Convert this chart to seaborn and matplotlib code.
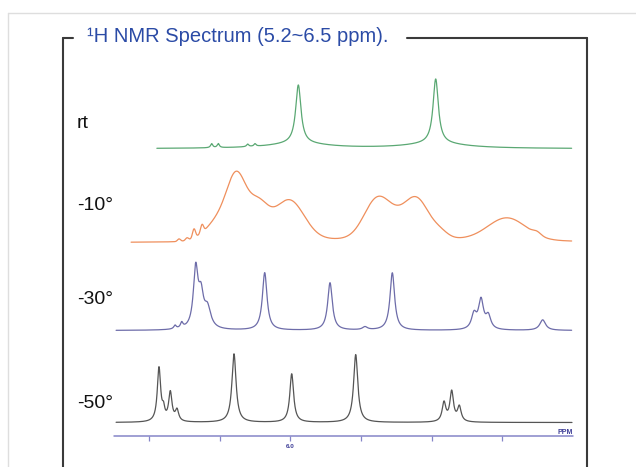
import numpy as np
import pandas as pd
import matplotlib
matplotlib.use("Agg")
import matplotlib.pyplot as plt
import seaborn as sns
from matplotlib.lines import Line2D

# ---------------- data ----------------
labels = ["rt", "-10°", "-30°", "-50°"]
colors = ["#5aa873", "#ef8f5c", "#6d6ca9", "#555555"]

# rt spectrum: peak centres (ppm), heights, half-widths (ppm)
rt_pos = [6.2227, 6.2040, 6.1207, 6.1000, 5.9773, 5.5881, 5.9773, 5.5881]
rt_height = [4.0, 4.0, 2.5, 2.5, 58.4, 64.4, 5.0, 5.0]
rt_width = [0.0037, 0.0037, 0.0037, 0.0037, 0.0091, 0.0091, 0.10, 0.10]
rt_range = [6.378, 5.203]

# -10 degree spectrum (broad, Gaussian bands)
m10_pos = [5.6892, 6.1821, 6.1510, 6.0915, 6.0037, 5.7544, 5.6977, 5.6411,
           5.5759, 5.3861, 5.3011, 6.3153, 6.2926, 6.2728, 6.2501]
m10_height = [4, 28, 44, 32, 40, 38.7, 12, 38, 6, 22, 3, 2.5, 2.5, 9, 8]
m10_width = [0.340, 0.0453, 0.0255, 0.0283, 0.0425, 0.0368, 0.0340, 0.0340,
             0.0227, 0.0538, 0.0113, 0.0042, 0.0042, 0.0042, 0.0042]
m10_range = [6.451, 5.203]

# -30 degree spectrum
m30_pos = [6.3266, 6.3076, 6.2680, 6.2530, 6.2346, 6.0725, 5.8875, 5.7884,
           5.7110, 5.4796, 5.4598, 5.4391, 5.2850]
m30_height = [3.5, 5.4, 58.6, 30.1, 19.7, 57.5, 47.5, 3.0, 57.5, 14.8, 29.0, 13.0, 10.5]
m30_width = [0.0042, 0.0042, 0.0079, 0.0085, 0.0113, 0.0079, 0.0079, 0.0085,
             0.0079, 0.0085, 0.0085, 0.0085, 0.0099]
m30_range = [6.4935, 5.203]

# -50 degree spectrum
m50_pos = [6.3720, 6.3592, 6.3399, 6.3210, 6.1595, 5.9960, 5.8147, 5.5646, 5.5428, 5.5212]
m50_height = [53.8, 9.8, 28.8, 11.1, 68.5, 48.5, 67.8, 19.0, 29.9, 14.8]
m50_width = [0.0057, 0.0042, 0.0057, 0.0057, 0.0071, 0.0065, 0.0071, 0.0062, 0.0062, 0.0062]
m50_range = [6.4935, 5.202]

shapes = ["lorentz", "gauss", "lorentz", "lorentz"]

# ppm axis
axis_range = [6.5, 5.2]
tick_values = [6.4, 6.2, 6.0, 5.8, 5.6, 5.4]
tick_labels = ["", "", "6.0", "", "", ""]
title = "¹H NMR Spectrum (5.2~6.5 ppm)."

# ---------------- layout ----------------
W, H = 636, 467
baselines = [318.3, 224.5, 136.5, 44.5]     # vertical offsets of the traces
label_y = [344, 261, 168, 63]               # label positions (same units)
axis_y = 31

def spectrum(x, pos, height, width, shape):
    y = np.zeros_like(x)
    for p, h, w in zip(pos, height, width):
        if shape == "lorentz":
            y += h * w ** 2 / ((x - p) ** 2 + w ** 2)
        else:
            y += h * np.exp(-0.5 * ((x - p) / w) ** 2)
    return y

specs = [
    (rt_pos, rt_height, rt_width, rt_range),
    (m10_pos, m10_height, m10_width, m10_range),
    (m30_pos, m30_height, m30_width, m30_range),
    (m50_pos, m50_height, m50_width, m50_range),
]

frames = []
for i, (pos, hgt, wid, rng) in enumerate(specs):
    x = np.linspace(rng[0], rng[1], 5000)
    y = spectrum(x, pos, hgt, wid, shapes[i]) + baselines[i]
    frames.append(pd.DataFrame({"ppm": x, "signal": y, "trace": labels[i]}))
df = pd.concat(frames, ignore_index=True)

sns.set_theme(style="white")
plt.rcParams["font.family"] = ["Liberation Sans", "DejaVu Sans"]

fig = plt.figure(figsize=(W / 100, H / 100), dpi=100)
ax = fig.add_axes([0, 0, 1, 1])
ax.set_xlim(6.0 + 290.3 / 353, 6.0 - 345.7 / 353)
ax.set_ylim(0, H)
ax.axis("off")

sns.lineplot(data=df, x="ppm", y="signal", hue="trace", palette=dict(zip(labels, colors)),
             estimator=None, sort=False, lw=0.9, legend=False, ax=ax)

# ppm scale
ax.plot(axis_range, [axis_y, axis_y], color="#8585c8", lw=1.1)
ax.vlines(tick_values, axis_y - 4.5, axis_y, color="#8585c8", lw=0.9)
for tv, tl in zip(tick_values, tick_labels):
    if tl:
        ax.text(tv, axis_y - 11, tl, fontsize=4.5, color="#3c3c96", ha="center", va="center",
                fontweight="bold")
ax.text(axis_range[1] + 0.022, axis_y + 3.8, "PPM", fontsize=5, color="#3c3c96",
        ha="center", va="center", fontweight="bold")

# trace labels
for lab, ly in zip(labels, label_y):
    ax.text(6.0 + (290.3 - 77) / 353, ly, lab, fontsize=14, color="#111111",
            ha="left", va="center")

# frames
def fx(px):
    return px / W

def fy(py):
    return 1 - py / H

grey = "#dedede"
fig.add_artist(Line2D([fx(8), 1], [fy(13), fy(13)], color=grey, lw=1.0))
fig.add_artist(Line2D([fx(8), fx(8)], [fy(13), 0], color=grey, lw=1.0))

dark = "#3a3a3a"
fig.add_artist(Line2D([fx(63), fx(63)], [fy(38), 0], color=dark, lw=1.5))
fig.add_artist(Line2D([fx(587), fx(587)], [fy(38), 0], color=dark, lw=1.5))
fig.add_artist(Line2D([fx(63), fx(73)], [fy(38), fy(38)], color=dark, lw=1.5))
fig.add_artist(Line2D([fx(407), fx(587)], [fy(38), fy(38)], color=dark, lw=1.5))

fig.text(fx(87), fy(36), title, fontsize=14.5, color="#2b4ba6", ha="left", va="center")

fig.savefig("out.png", dpi=100)
